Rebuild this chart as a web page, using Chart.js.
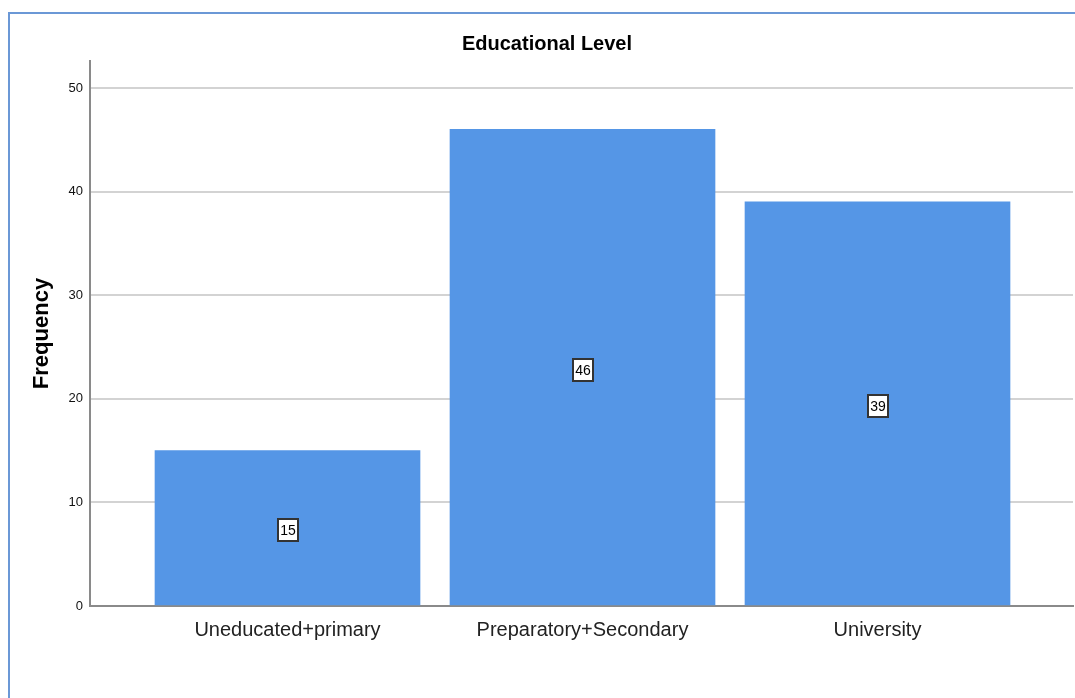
<!DOCTYPE html>
<html>
<head>
<meta charset="utf-8">
<script src="https://cdn.jsdelivr.net/npm/chart.js@4.4.0/dist/chart.umd.min.js"></script>
<style>
  html, body { margin: 0; padding: 0; background: #fff; }
  #wrap { position: relative; width: 1075px; height: 698px; }
  #frame { position: absolute; left: 8px; top: 12px; right: 0; bottom: 0;
           border-left: 2px solid #6b98d6; border-top: 2px solid #6b98d6; }
  canvas { position: absolute; left: 0; top: 0; }
</style>
</head>
<body>
<div id="wrap">
  <div id="frame"></div>
  <canvas id="c" width="1075" height="698"></canvas>
</div>
<script>
// Educational level frequencies
const categories = ['Uneducated+primary', 'Preparatory+Secondary', 'University'];
const frequency = [15, 46, 39];
const yTicks = [0, 10, 20, 30, 40, 50];

const FONT = "'Liberation Sans', Arial, sans-serif";
const BAR = '#5596e6';

// title, axis title and the boxed value labels
const decorations = {
    id: 'decorations',
    afterDatasetsDraw(chart) {
        const ctx = chart.ctx;
        const area = chart.chartArea;
        ctx.save();
        ctx.fillStyle = '#000';
        ctx.textAlign = 'center';
        ctx.textBaseline = 'middle';
        ctx.font = 'bold 20px ' + FONT;
        ctx.fillText('Educational Level', 547, 44);

        ctx.save();
        ctx.translate(42, (area.top + area.bottom) / 2);
        ctx.rotate(-Math.PI / 2);
        ctx.font = 'bold 22px ' + FONT;
        ctx.fillText('Frequency', 0, 0);
        ctx.restore();

        const meta = chart.getDatasetMeta(0);
        const ys = chart.scales.y;
        ctx.font = '14px ' + FONT;
        meta.data.forEach((bar, i) => {
            const v = frequency[i];
            const cy = Math.round(ys.getPixelForValue(v / 2)) + 2;
            const cx = Math.round(bar.x);
            const w = 20;
            const h = 22;
            ctx.fillStyle = '#fff';
            ctx.fillRect(cx - w / 2, cy - h / 2, w, h);
            ctx.strokeStyle = '#333';
            ctx.lineWidth = 2;
            ctx.strokeRect(cx - w / 2, cy - h / 2, w, h);
            ctx.fillStyle = '#000';
            ctx.fillText(String(v), cx, cy + 1);
        });
        ctx.restore();
    }
};

new Chart(document.getElementById('c'), {
    type: 'bar',
    data: {
        datasets: [{
            data: categories.map((c, i) => ({ x: i, y: frequency[i] })),
            backgroundColor: BAR,
            borderWidth: 0,
            barThickness: 265,
        }],
    },
    options: {
        responsive: false,
        animation: false,
        devicePixelRatio: 1,
        layout: { padding: { left: 0, top: 61, right: 2, bottom: 0 } },
        plugins: { legend: { display: false }, tooltip: { enabled: false } },
        scales: {
            x: {
                type: 'linear',
                offset: false,
                min: -0.6695,
                max: 2.6627,
                afterFit: s => { s.height = 92; },
                afterBuildTicks: s => { s.ticks = categories.map((c, i) => ({ value: i })); },
                grid: { display: false, offset: false },
                border: { display: true, color: '#8a8a8a', width: 2 },
                ticks: {
                    callback: v => categories[v],
                    color: '#222',
                    font: { family: FONT, size: 20 },
                    padding: 4,
                    maxRotation: 0,
                },
            },
            y: {
                min: 0,
                max: 52.6,
                afterFit: s => { s.width = 90; },
                afterBuildTicks: s => { s.ticks = yTicks.map(v => ({ value: v })); },
                grid: {
                    color: ctx => ctx.tick && ctx.tick.value === 0 ? 'rgba(0,0,0,0)' : '#d3d3d3',
                    lineWidth: 2,
                    drawTicks: false,
                },
                border: { display: true, color: '#8a8a8a', width: 2 },
                ticks: {
                    color: '#111',
                    font: { family: FONT, size: 13 },
                    padding: 7,
                },
            },
        },
    },
    plugins: [decorations],
});
</script>
</body>
</html>
